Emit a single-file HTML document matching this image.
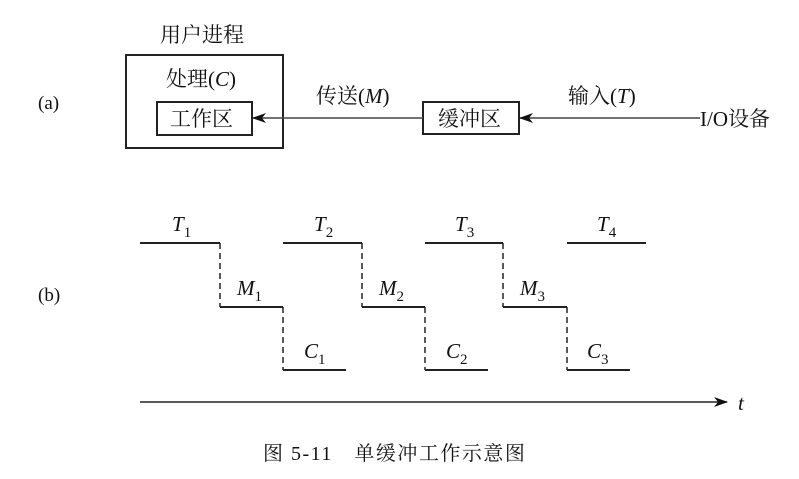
<!DOCTYPE html>
<html><head><meta charset="utf-8"><style>
html,body{margin:0;padding:0;background:#fff;}
svg text{font-family:"Liberation Serif","Noto Serif CJK SC",serif;fill:#111;}
</style></head><body>
<svg width="799" height="474" viewBox="0 0 799 474" xmlns="http://www.w3.org/2000/svg">
<defs>
<marker id="ah" markerWidth="14" markerHeight="10" refX="13" refY="5" orient="auto" markerUnits="userSpaceOnUse">
<path d="M0,0 L14,5 L0,10 L4,5 Z" fill="#111"/>
</marker>
</defs>
<g stroke="#222" stroke-width="2" fill="none">
<rect x="126" y="55" width="157" height="93"/>
<rect x="157" y="102" width="95" height="33"/>
<rect x="423" y="102" width="96" height="32"/>
</g>
<g stroke="#444" stroke-width="1.5">
<line x1="423" y1="118" x2="253" y2="118" marker-end="url(#ah)"/>
<line x1="700" y1="118" x2="520" y2="118" marker-end="url(#ah)"/>
</g>
<text x="160" y="42" font-size="21">用户进程</text>
<text x="166" y="86" font-size="21">处理(<tspan font-style="italic">C</tspan>)</text>
<text x="170" y="126" font-size="21">工作区</text>
<text x="438" y="126" font-size="21">缓冲区</text>
<text x="316" y="103" font-size="21">传送(<tspan font-style="italic">M</tspan>)</text>
<text x="568" y="103" font-size="21">输入(<tspan font-style="italic">T</tspan>)</text>
<text x="700" y="126" font-size="21">I/O设备</text>
<text x="38" y="109" font-size="19">(a)</text>
<text x="38" y="301" font-size="19">(b)</text>

<g stroke="#222" stroke-width="2">
<line x1="140" y1="243" x2="220" y2="243"/>
<line x1="220" y1="307" x2="283" y2="307"/>
<line x1="283" y1="370" x2="346" y2="370"/>
<line x1="283" y1="243" x2="362" y2="243"/>
<line x1="362" y1="307" x2="425" y2="307"/>
<line x1="425" y1="370" x2="488" y2="370"/>
<line x1="425" y1="243" x2="503" y2="243"/>
<line x1="503" y1="307" x2="567" y2="307"/>
<line x1="567" y1="370" x2="630" y2="370"/>
<line x1="567" y1="243" x2="646" y2="243"/>
</g>
<g stroke="#222" stroke-width="1.5" stroke-dasharray="6,4">
<line x1="220" y1="243" x2="220" y2="307"/>
<line x1="283" y1="307" x2="283" y2="370"/>
<line x1="362" y1="243" x2="362" y2="307"/>
<line x1="425" y1="307" x2="425" y2="370"/>
<line x1="503" y1="243" x2="503" y2="307"/>
<line x1="567" y1="307" x2="567" y2="370"/>
</g>
<line x1="140" y1="402" x2="727" y2="402" stroke="#222" stroke-width="1.5" marker-end="url(#ah)"/>
<text x="738" y="410" font-size="21" font-style="italic">t</text>

<g font-size="21" font-style="italic">
<text x="172" y="231">T<tspan font-size="15" font-style="normal" dy="6">1</tspan></text>
<text x="314" y="231">T<tspan font-size="15" font-style="normal" dy="6">2</tspan></text>
<text x="455" y="231">T<tspan font-size="15" font-style="normal" dy="6">3</tspan></text>
<text x="597" y="231">T<tspan font-size="15" font-style="normal" dy="6">4</tspan></text>
<text x="237" y="295">M<tspan font-size="15" font-style="normal" dy="6">1</tspan></text>
<text x="379" y="295">M<tspan font-size="15" font-style="normal" dy="6">2</tspan></text>
<text x="520" y="295">M<tspan font-size="15" font-style="normal" dy="6">3</tspan></text>
<text x="304" y="358">C<tspan font-size="15" font-style="normal" dy="6">1</tspan></text>
<text x="446" y="358">C<tspan font-size="15" font-style="normal" dy="6">2</tspan></text>
<text x="587" y="358">C<tspan font-size="15" font-style="normal" dy="6">3</tspan></text>
</g>
<text x="263" y="460" font-size="20" letter-spacing="1.5">图 5-11　单缓冲工作示意图</text>
</svg>
</body></html>
